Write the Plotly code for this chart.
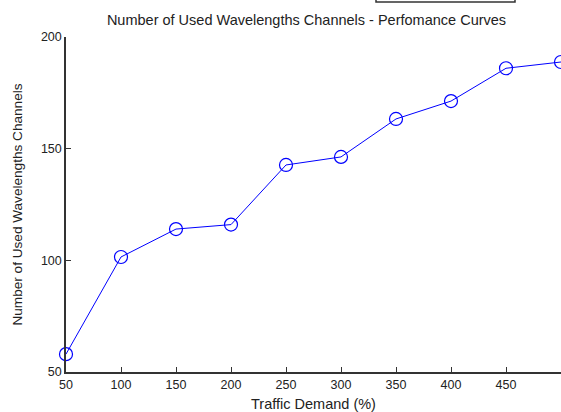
import plotly.graph_objects as go

traffic_demand = [50, 100, 150, 200, 250, 300, 350, 400, 450, 500]
used_channels = [58, 101.5, 114, 116, 142.7, 146.3, 163.3, 171.3, 186, 188.8]
x_ticks = [50, 100, 150, 200, 250, 300, 350, 400, 450, 500]
y_ticks = [50, 100, 150, 200]

W, H = 561, 412
# plot area in window pixels: x 66..561, y 37..372
L, T, R, B = 66, 37, 0, 40
PW = W - L - R
PH = H - T - B

fig = go.Figure()
fig.add_trace(go.Scatter(
    x=traffic_demand, y=used_channels, mode="lines+markers",
    line=dict(color="#0000ff", width=1),
    marker=dict(symbol="circle-open", size=13, color="#0000ff", line=dict(width=1.2, color="#0000ff")),
    cliponaxis=False, showlegend=False,
))

font = "Liberation Sans, Arial, sans-serif"
fig.update_layout(
    width=W, height=H,
    margin=dict(l=L, r=R, t=T, b=B, autoexpand=False),
    paper_bgcolor="white", plot_bgcolor="white",
    font=dict(family=font, size=12.5, color="#222222"),
    title=dict(text="Number of Used Wavelengths Channels - Perfomance Curves",
               x=306.5 / W, xanchor="center", y=1 - 20 / H, yanchor="middle",
               font=dict(size=14.5, family=font)),
    xaxis=dict(range=[50, 500], tickvals=x_ticks, ticktext=[str(v) for v in x_ticks],
               ticks="inside", ticklen=5, tickcolor="#333333", showgrid=False, zeroline=False,
               showline=True, linecolor="#333333", linewidth=1.5, automargin=False,
               title=dict(text="Traffic Demand (%)", standoff=8, font=dict(size=14.5))),
    yaxis=dict(range=[50, 200], tickvals=y_ticks, ticktext=[str(v) for v in y_ticks],
               ticks="inside", ticklen=5, tickcolor="#333333", showgrid=False, zeroline=False,
               showline=True, linecolor="#333333", linewidth=1.5, automargin=False,
               title=dict(text="Number of Used Wavelengths Channels", standoff=15, font=dict(size=13.6))),
)

# partially visible box at top (cropped legend frame)
fig.add_shape(type="rect", xref="paper", yref="paper",
              x0=(376 - L) / PW, x1=(515 - L) / PW,
              y0=(H - B - 2) / PH, y1=(H - B + 20) / PH,
              line=dict(color="#333333", width=1.5), fillcolor="white", layer="above")

fig.write_html(
    "out.html",
    config={"displayModeBar": False},
    post_script="document.body.style.margin='0';document.body.style.overflow='hidden';",
)
